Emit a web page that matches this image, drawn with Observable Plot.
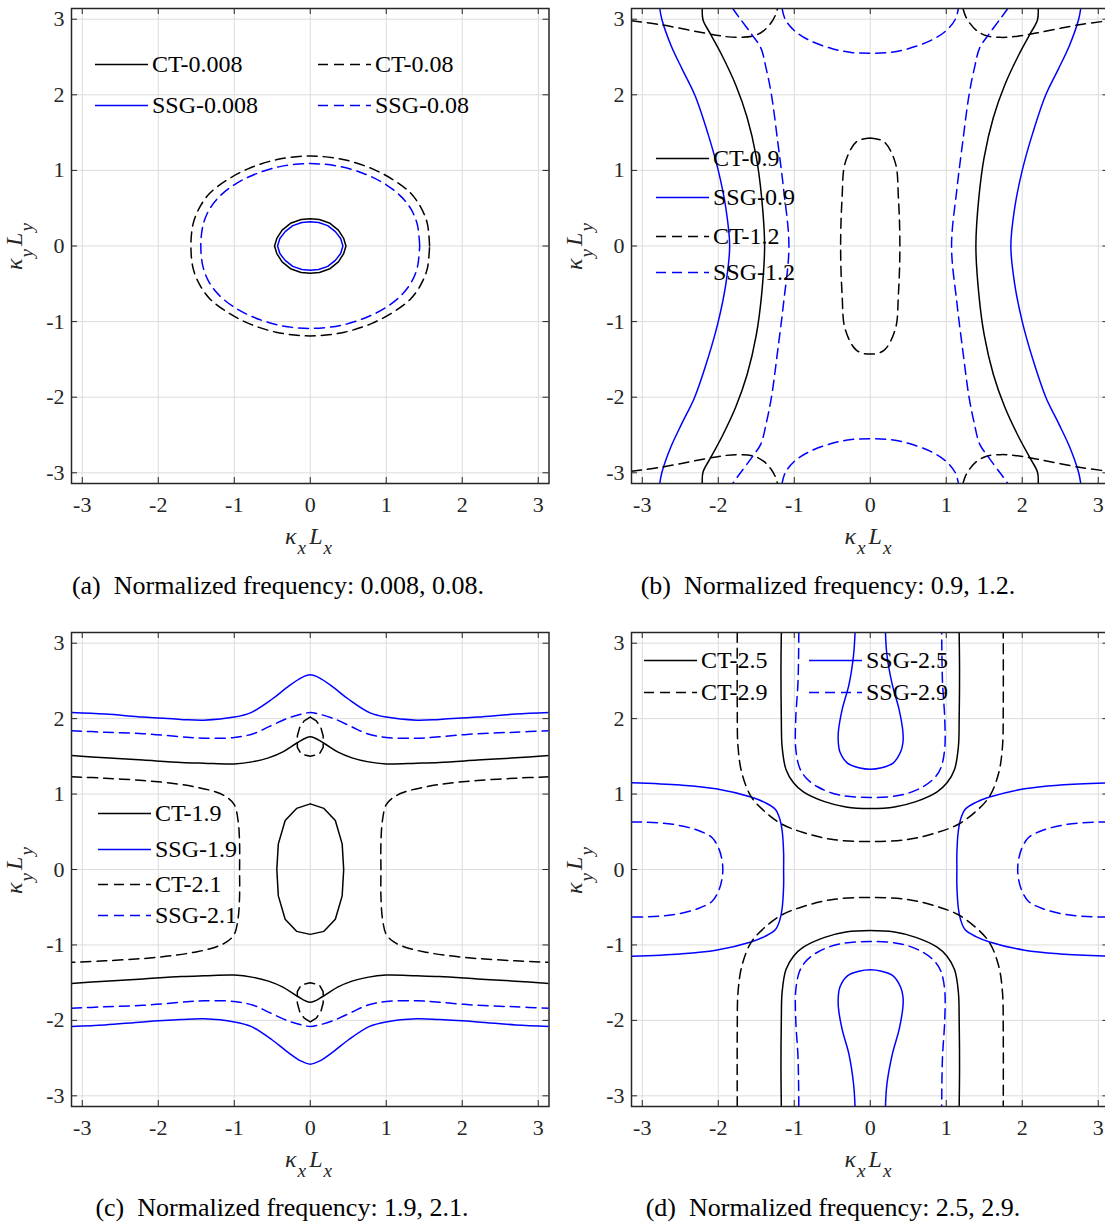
<!DOCTYPE html>
<html><head><meta charset="utf-8">
<script src="https://cdn.jsdelivr.net/npm/d3@7"></script>
<script src="https://cdn.jsdelivr.net/npm/@observablehq/plot@0.6"></script>
<style>
html,body{margin:0;padding:0;background:#fff;}
body{width:1105px;height:1228px;overflow:hidden;position:relative;font-family:"Liberation Serif","Times New Roman",serif;color:#262626;}
.panel{position:absolute;}
.panel svg{display:block;max-width:none;}
.caption{position:absolute;white-space:pre;font-size:26px;color:#000;transform:translate(-50%,-50%);}
.xlabel{position:absolute;white-space:nowrap;font-size:24px;color:#262626;transform:translate(-50%,-50%);}
.ylabel{position:absolute;white-space:nowrap;font-size:24px;color:#262626;transform:translate(-50%,-50%) rotate(-90deg);}
.xlabel sub,.ylabel sub{font-size:0.8em;vertical-align:-0.55em;font-style:italic;margin:0 3px 0 1px;}
.item{position:absolute;display:flex;align-items:center;white-space:nowrap;font-size:24px;color:#000;transform:translateY(-50%);}
.item svg{display:block;margin-right:4px;}
</style></head><body>
<script>
// ---------- ticks ----------
const TICKS = [-3, -2, -1, 0, 1, 2, 3];

// ---------- panel (a): normalized frequency 0.008, 0.08 ----------
const a_ct0008 = [[0.47,0],[0.44,0.1],[0.37,0.21],[0.26,0.3],[0.12,0.35],[0,0.36],[-0.12,0.35],[-0.26,0.3],[-0.37,0.21],[-0.44,0.1],[-0.47,0],[-0.44,-0.1],[-0.37,-0.21],[-0.26,-0.3],[-0.12,-0.35],[0,-0.36],[0.12,-0.35],[0.26,-0.3],[0.37,-0.21],[0.44,-0.1],[0.47,0]];
const a_ssg0008 = [[0.43,0],[0.4,0.1],[0.33,0.19],[0.23,0.27],[0.11,0.31],[0,0.32],[-0.11,0.31],[-0.23,0.27],[-0.33,0.19],[-0.4,0.1],[-0.43,0],[-0.4,-0.1],[-0.33,-0.19],[-0.23,-0.27],[-0.11,-0.31],[0,-0.32],[0.11,-0.31],[0.23,-0.27],[0.33,-0.19],[0.4,-0.1],[0.43,0]];
const a_ct008 = [[1.57,0],[1.54,0.3],[1.45,0.52],[1.32,0.7],[1.1,0.87],[0.82,1.02],[0.45,1.14],[0,1.19],[-0.45,1.14],[-0.82,1.02],[-1.1,0.87],[-1.32,0.7],[-1.45,0.52],[-1.54,0.3],[-1.57,0],[-1.54,-0.3],[-1.45,-0.52],[-1.32,-0.7],[-1.1,-0.87],[-0.82,-1.02],[-0.45,-1.14],[0,-1.19],[0.45,-1.14],[0.82,-1.02],[1.1,-0.87],[1.32,-0.7],[1.45,-0.52],[1.54,-0.3],[1.57,0]];
const a_ssg008 = [[1.44,0],[1.41,0.28],[1.33,0.48],[1.2,0.65],[1.0,0.81],[0.75,0.94],[0.4,1.05],[0,1.09],[-0.4,1.05],[-0.75,0.94],[-1.0,0.81],[-1.2,0.65],[-1.33,0.48],[-1.41,0.28],[-1.44,0],[-1.41,-0.28],[-1.33,-0.48],[-1.2,-0.65],[-1.0,-0.81],[-0.75,-0.94],[-0.4,-1.05],[0,-1.09],[0.4,-1.05],[0.75,-0.94],[1.0,-0.81],[1.2,-0.65],[1.33,-0.48],[1.41,-0.28],[1.44,0]];
const a_labels = ["CT-0.008", "CT-0.08", "SSG-0.008", "SSG-0.08"];

// ---------- panel (b): 0.9, 1.2 ----------
const b_ct09_r = [[2.21,3.1416],[2.2,2.99],[2.1,2.8],[1.95,2.52],[1.77,2.13],[1.62,1.7],[1.5,1.18],[1.43,0.65],[1.39,0],[1.43,-0.65],[1.5,-1.18],[1.62,-1.7],[1.77,-2.13],[1.95,-2.52],[2.1,-2.8],[2.2,-2.99],[2.21,-3.1416]];
const b_ct09_l = [[-2.21,3.1416],[-2.2,2.99],[-2.1,2.8],[-1.95,2.52],[-1.77,2.13],[-1.62,1.7],[-1.5,1.18],[-1.43,0.65],[-1.39,0],[-1.43,-0.65],[-1.5,-1.18],[-1.62,-1.7],[-1.77,-2.13],[-1.95,-2.52],[-2.1,-2.8],[-2.2,-2.99],[-2.21,-3.1416]];
const b_ssg09_r = [[2.77,3.1416],[2.74,2.99],[2.62,2.65],[2.48,2.35],[2.31,2.0],[2.14,1.5],[2.0,1.0],[1.9,0.5],[1.85,0],[1.9,-0.5],[2.0,-1.0],[2.14,-1.5],[2.31,-2.0],[2.48,-2.35],[2.62,-2.65],[2.74,-2.99],[2.77,-3.1416]];
const b_ssg09_l = [[-2.77,3.1416],[-2.74,2.99],[-2.62,2.65],[-2.48,2.35],[-2.31,2.0],[-2.14,1.5],[-2.0,1.0],[-1.9,0.5],[-1.85,0],[-1.9,-0.5],[-2.0,-1.0],[-2.14,-1.5],[-2.31,-2.0],[-2.48,-2.35],[-2.62,-2.65],[-2.74,-2.99],[-2.77,-3.1416]];
const b_ct12_oval = [[0,1.43],[0.18,1.38],[0.33,1.1],[0.37,0.65],[0.39,0],[0.37,-0.65],[0.33,-1.1],[0.18,-1.38],[0,-1.43],[-0.18,-1.38],[-0.33,-1.1],[-0.37,-0.65],[-0.39,0],[-0.37,0.65],[-0.33,1.1],[-0.18,1.38],[0,1.43]];
const b_ct12_tl = [[-3.1416,2.98],[-2.77,2.93],[-2.2,2.82],[-1.9,2.77],[-1.71,2.76],[-1.53,2.78],[-1.4,2.85],[-1.3,2.96],[-1.25,3.05],[-1.22,3.1416]];
const b_ct12_tr = [[1.22,3.1416],[1.25,3.05],[1.3,2.96],[1.4,2.85],[1.53,2.78],[1.71,2.76],[1.9,2.77],[2.2,2.82],[2.77,2.93],[3.1416,2.98]];
const b_ct12_bl = [[-3.1416,-2.98],[-2.77,-2.93],[-2.2,-2.82],[-1.9,-2.77],[-1.71,-2.76],[-1.53,-2.78],[-1.4,-2.85],[-1.3,-2.96],[-1.25,-3.05],[-1.22,-3.1416]];
const b_ct12_br = [[1.22,-3.1416],[1.25,-3.05],[1.3,-2.96],[1.4,-2.85],[1.53,-2.78],[1.71,-2.76],[1.9,-2.77],[2.2,-2.82],[2.77,-2.93],[3.1416,-2.98]];
const b_ssg12_top = [[-1.16,3.1416],[-1.12,3.0],[-1.0,2.85],[-0.8,2.72],[-0.5,2.61],[-0.25,2.56],[0,2.55],[0.25,2.56],[0.5,2.61],[0.8,2.72],[1.0,2.85],[1.12,3.0],[1.16,3.1416]];
const b_ssg12_bot = [[-1.16,-3.1416],[-1.12,-3.0],[-1.0,-2.85],[-0.8,-2.72],[-0.5,-2.61],[-0.25,-2.56],[0,-2.55],[0.25,-2.56],[0.5,-2.61],[0.8,-2.72],[1.0,-2.85],[1.12,-3.0],[1.16,-3.1416]];
const b_ssg12_r = [[1.81,3.1416],[1.73,3.03],[1.56,2.8],[1.44,2.62],[1.37,2.35],[1.3,2.0],[1.22,1.4],[1.14,0.75],[1.07,0],[1.14,-0.75],[1.22,-1.4],[1.3,-2.0],[1.37,-2.35],[1.44,-2.62],[1.56,-2.8],[1.73,-3.03],[1.81,-3.1416]];
const b_ssg12_l = [[-1.81,3.1416],[-1.73,3.03],[-1.56,2.8],[-1.44,2.62],[-1.37,2.35],[-1.3,2.0],[-1.22,1.4],[-1.14,0.75],[-1.07,0],[-1.14,-0.75],[-1.22,-1.4],[-1.3,-2.0],[-1.37,-2.35],[-1.44,-2.62],[-1.56,-2.8],[-1.73,-3.03],[-1.81,-3.1416]];
const b_labels = ["CT-0.9", "SSG-0.9", "CT-1.2", "SSG-1.2"];

// ---------- panel (c): 1.9, 2.1 ----------
const c_ssg19_top = [[-3.1416,2.08],[-2.7,2.06],[-2.2,2.02],[-1.7,1.99],[-1.4,1.98],[-1.0,2.02],[-0.78,2.08],[-0.5,2.26],[-0.31,2.41],[-0.12,2.54],[0,2.58],[0.12,2.54],[0.31,2.41],[0.5,2.26],[0.78,2.08],[1.0,2.02],[1.4,1.98],[1.7,1.99],[2.2,2.02],[2.7,2.06],[3.1416,2.08]];
const c_ssg19_bot = [[-3.1416,-2.08],[-2.7,-2.06],[-2.2,-2.02],[-1.7,-1.99],[-1.4,-1.98],[-1.0,-2.02],[-0.78,-2.08],[-0.5,-2.26],[-0.31,-2.41],[-0.12,-2.54],[0,-2.58],[0.12,-2.54],[0.31,-2.41],[0.5,-2.26],[0.78,-2.08],[1.0,-2.02],[1.4,-1.98],[1.7,-1.99],[2.2,-2.02],[2.7,-2.06],[3.1416,-2.08]];
const c_ssg21_top = [[-3.1416,1.84],[-2.7,1.82],[-2.2,1.8],[-1.7,1.76],[-1.4,1.74],[-1.0,1.75],[-0.75,1.8],[-0.55,1.89],[-0.31,2.0],[-0.12,2.06],[0,2.08],[0.12,2.06],[0.31,2.0],[0.55,1.89],[0.75,1.8],[1.0,1.75],[1.4,1.74],[1.7,1.76],[2.2,1.8],[2.7,1.82],[3.1416,1.84]];
const c_ssg21_bot = [[-3.1416,-1.84],[-2.7,-1.82],[-2.2,-1.8],[-1.7,-1.76],[-1.4,-1.74],[-1.0,-1.75],[-0.75,-1.8],[-0.55,-1.89],[-0.31,-2.0],[-0.12,-2.06],[0,-2.08],[0.12,-2.06],[0.31,-2.0],[0.55,-1.89],[0.75,-1.8],[1.0,-1.75],[1.4,-1.74],[1.7,-1.76],[2.2,-1.8],[2.7,-1.82],[3.1416,-1.84]];
const c_ct19_top = [[-3.1416,1.51],[-2.7,1.48],[-2.2,1.45],[-1.7,1.42],[-1.4,1.41],[-1.0,1.4],[-0.75,1.43],[-0.55,1.48],[-0.36,1.56],[-0.17,1.68],[0,1.76],[0.17,1.68],[0.36,1.56],[0.55,1.48],[0.75,1.43],[1.0,1.4],[1.4,1.41],[1.7,1.42],[2.2,1.45],[2.7,1.48],[3.1416,1.51]];
const c_ct19_bot = [[-3.1416,-1.51],[-2.7,-1.48],[-2.2,-1.45],[-1.7,-1.42],[-1.4,-1.41],[-1.0,-1.4],[-0.75,-1.43],[-0.55,-1.48],[-0.36,-1.56],[-0.17,-1.68],[0,-1.76],[0.17,-1.68],[0.36,-1.56],[0.55,-1.48],[0.75,-1.43],[1.0,-1.4],[1.4,-1.41],[1.7,-1.42],[2.2,-1.45],[2.7,-1.48],[3.1416,-1.51]];
const c_ct19_oval = [[0,0.87],[0.18,0.81],[0.33,0.65],[0.42,0.34],[0.44,0],[0.42,-0.35],[0.33,-0.66],[0.18,-0.82],[0,-0.86],[-0.18,-0.82],[-0.33,-0.66],[-0.42,-0.35],[-0.44,0],[-0.42,0.34],[-0.33,0.65],[-0.18,0.81],[0,0.87]];
const c_ct21_l = [[-3.1416,1.23],[-2.7,1.21],[-2.2,1.18],[-1.8,1.14],[-1.49,1.09],[-1.25,1.03],[-1.1,0.96],[-1.0,0.86],[-0.95,0.65],[-0.93,0.35],[-0.93,0],[-0.93,-0.35],[-0.95,-0.65],[-1.0,-0.86],[-1.1,-0.96],[-1.25,-1.03],[-1.49,-1.09],[-1.8,-1.14],[-2.2,-1.18],[-2.7,-1.21],[-3.1416,-1.23]];
const c_ct21_r = [[3.1416,1.23],[2.7,1.21],[2.2,1.18],[1.8,1.14],[1.49,1.09],[1.25,1.03],[1.1,0.96],[1.0,0.86],[0.95,0.65],[0.93,0.35],[0.93,0],[0.93,-0.35],[0.95,-0.65],[1.0,-0.86],[1.1,-0.96],[1.25,-1.03],[1.49,-1.09],[1.8,-1.14],[2.2,-1.18],[2.7,-1.21],[3.1416,-1.23]];
const c_ct21_up = [[0,2.02],[0.08,1.97],[0.14,1.88],[0.17,1.77],[0.17,1.62],[0.12,1.53],[0,1.5],[-0.12,1.53],[-0.17,1.62],[-0.17,1.77],[-0.14,1.88],[-0.08,1.97],[0,2.02]];
const c_ct21_lo = [[0,-2.02],[0.08,-1.97],[0.14,-1.88],[0.17,-1.77],[0.17,-1.62],[0.12,-1.53],[0,-1.5],[-0.12,-1.53],[-0.17,-1.62],[-0.17,-1.77],[-0.14,-1.88],[-0.08,-1.97],[0,-2.02]];
const c_labels = ["CT-1.9", "SSG-1.9", "CT-2.1", "SSG-2.1"];

// ---------- panel (d): 2.5, 2.9 ----------
const d_ct25_top = [[-1.17,3.1416],[-1.175,2.64],[-1.17,1.98],[-1.16,1.63],[-1.11,1.33],[-1.01,1.15],[-0.88,1.03],[-0.6,0.9],[-0.32,0.83],[0,0.81],[0.32,0.83],[0.6,0.9],[0.88,1.03],[1.01,1.15],[1.11,1.33],[1.16,1.63],[1.17,1.98],[1.175,2.64],[1.17,3.1416]];
const d_ct25_bot = [[-1.17,-3.1416],[-1.175,-2.64],[-1.17,-1.98],[-1.16,-1.63],[-1.11,-1.33],[-1.01,-1.15],[-0.88,-1.03],[-0.6,-0.9],[-0.32,-0.83],[0,-0.81],[0.32,-0.83],[0.6,-0.9],[0.88,-1.03],[1.01,-1.15],[1.11,-1.33],[1.16,-1.63],[1.17,-1.98],[1.175,-2.64],[1.17,-3.1416]];
const d_ssg25_top = [[-0.2,3.1416],[-0.22,2.84],[-0.28,2.45],[-0.37,2.12],[-0.42,1.82],[-0.42,1.68],[-0.4,1.56],[-0.3,1.41],[-0.15,1.35],[0,1.33],[0.15,1.35],[0.3,1.41],[0.4,1.56],[0.43,1.68],[0.43,1.82],[0.38,2.12],[0.29,2.45],[0.22,2.84],[0.2,3.1416]];
const d_ssg25_bot = [[-0.2,-3.1416],[-0.22,-2.84],[-0.28,-2.45],[-0.37,-2.12],[-0.42,-1.82],[-0.42,-1.68],[-0.4,-1.56],[-0.3,-1.41],[-0.15,-1.35],[0,-1.33],[0.15,-1.35],[0.3,-1.41],[0.4,-1.56],[0.43,-1.68],[0.43,-1.82],[0.38,-2.12],[0.29,-2.45],[0.22,-2.84],[0.2,-3.1416]];
const d_ssg25_l = [[-3.1416,1.15],[-2.5,1.12],[-2.03,1.07],[-1.57,0.96],[-1.39,0.89],[-1.25,0.8],[-1.19,0.67],[-1.16,0.52],[-1.14,0.22],[-1.14,0],[-1.14,-0.22],[-1.16,-0.52],[-1.19,-0.67],[-1.25,-0.8],[-1.39,-0.89],[-1.57,-0.96],[-2.03,-1.07],[-2.5,-1.12],[-3.1416,-1.15]];
const d_ssg25_r = [[3.1416,1.15],[2.5,1.12],[2.03,1.07],[1.57,0.96],[1.39,0.89],[1.25,0.8],[1.19,0.67],[1.16,0.52],[1.14,0.22],[1.14,0],[1.14,-0.22],[1.16,-0.52],[1.19,-0.67],[1.25,-0.8],[1.39,-0.89],[1.57,-0.96],[2.03,-1.07],[2.5,-1.12],[3.1416,-1.15]];
const d_ssg29_top = [[-0.94,3.1416],[-0.95,2.5],[-0.98,2.0],[-0.98,1.6],[-0.93,1.35],[-0.85,1.22],[-0.7,1.1],[-0.42,0.99],[0,0.955],[0.42,0.99],[0.7,1.1],[0.85,1.22],[0.93,1.35],[0.98,1.6],[0.98,2.0],[0.95,2.5],[0.94,3.1416]];
const d_ssg29_bot = [[-0.94,-3.1416],[-0.95,-2.5],[-0.98,-2.0],[-0.98,-1.6],[-0.93,-1.35],[-0.85,-1.22],[-0.7,-1.1],[-0.42,-0.99],[0,-0.955],[0.42,-0.99],[0.7,-1.1],[0.85,-1.22],[0.93,-1.35],[0.98,-1.6],[0.98,-2.0],[0.95,-2.5],[0.94,-3.1416]];
const d_ssg29_l = [[-3.1416,0.63],[-3.0,0.63],[-2.6,0.6],[-2.27,0.52],[-2.08,0.42],[-1.99,0.27],[-1.95,0.12],[-1.94,0],[-1.95,-0.12],[-1.99,-0.27],[-2.08,-0.42],[-2.27,-0.52],[-2.6,-0.6],[-3.0,-0.63],[-3.1416,-0.63]];
const d_ssg29_r = [[3.1416,0.63],[3.0,0.63],[2.6,0.6],[2.27,0.52],[2.08,0.42],[1.99,0.27],[1.95,0.12],[1.94,0],[1.95,-0.12],[1.99,-0.27],[2.08,-0.42],[2.27,-0.52],[2.6,-0.6],[3.0,-0.63],[3.1416,-0.63]];
const d_ct29_top = [[-1.75,3.1416],[-1.75,2.14],[-1.74,1.63],[-1.69,1.28],[-1.57,0.97],[-1.39,0.77],[-1.16,0.6],[-0.88,0.49],[-0.51,0.4],[0,0.37],[0.51,0.4],[0.88,0.49],[1.16,0.6],[1.39,0.77],[1.57,0.97],[1.69,1.28],[1.74,1.63],[1.75,2.14],[1.75,3.1416]];
const d_ct29_bot = [[-1.75,-3.1416],[-1.75,-2.14],[-1.74,-1.63],[-1.69,-1.28],[-1.57,-0.97],[-1.39,-0.77],[-1.16,-0.6],[-0.88,-0.49],[-0.51,-0.4],[0,-0.37],[0.51,-0.4],[0.88,-0.49],[1.16,-0.6],[1.39,-0.77],[1.57,-0.97],[1.69,-1.28],[1.74,-1.63],[1.75,-2.14],[1.75,-3.1416]];
const d_labels = ["CT-2.5", "CT-2.9", "SSG-2.5", "SSG-2.9"];

const captions = ["(a)  Normalized frequency: 0.008, 0.08.", "(b)  Normalized frequency: 0.9, 1.2.", "(c)  Normalized frequency: 1.9, 2.1.", "(d)  Normalized frequency: 2.5, 2.9."];

// ---------- styles ----------
const ST = {
  ctS:  {stroke: "#000000", dashed: false},
  ctD:  {stroke: "#000000", dashed: true},
  ssgS: {stroke: "#0000ff", dashed: false},
  ssgD: {stroke: "#0000ff", dashed: true}
};
const DASH = "10,6";

function makePanel(series, fr) {
  const ml = 60, mr = 12, mt = 10, mb = 50;
  const marks = [
    Plot.ruleX(TICKS, {x: d => d, stroke: "#dcdcdc", strokeWidth: 1}),
    Plot.ruleY(TICKS, {y: d => d, stroke: "#dcdcdc", strokeWidth: 1}),
    ...series.map(s => Plot.line(s.data, {
      x: d => d[0], y: d => d[1], stroke: s.st.stroke, strokeWidth: 1.5,
      ...(s.st.dashed ? {strokeDasharray: DASH} : {}),
      curve: s.curve || "catmull-rom", clip: true
    })),
    Plot.tickX(TICKS, {x: d => d, insetTop: fr.h - 6, stroke: "#262626"}),
    Plot.tickX(TICKS, {x: d => d, insetBottom: fr.h - 6, stroke: "#262626"}),
    Plot.tickY(TICKS, {y: d => d, insetRight: fr.w - 6, stroke: "#262626"}),
    Plot.tickY(TICKS, {y: d => d, insetLeft: fr.w - 6, stroke: "#262626"}),
    Plot.frame({stroke: "#262626", strokeWidth: 1.5})
  ];
  const svg = Plot.plot({
    width: fr.w + ml + mr, height: fr.h + mt + mb,
    marginLeft: ml, marginRight: mr, marginTop: mt, marginBottom: mb,
    style: {fontFamily: "'Liberation Serif', 'Times New Roman', serif", fontSize: "22px", color: "#262626", background: "transparent", maxWidth: "none", overflow: "visible"},
    x: {domain: [-Math.PI, Math.PI], ticks: TICKS, tickFormat: d => String(d), tickSize: 0, tickPadding: 13, label: null},
    y: {domain: [-Math.PI, Math.PI], ticks: TICKS, tickFormat: d => String(d), tickSize: 0, tickPadding: 7, label: null},
    marks
  });
  const div = document.createElement("div");
  div.className = "panel";
  div.style.left = (fr.left - ml) + "px";
  div.style.top = (fr.top - mt) + "px";
  div.appendChild(svg);
  document.body.appendChild(div);

  // axis labels
  const xl = document.createElement("div");
  xl.className = "xlabel";
  xl.style.left = (fr.left + fr.w / 2) + "px";
  xl.style.top = (fr.top + fr.h + 58) + "px";
  xl.innerHTML = "<i>κ</i><sub>x</sub><i>L</i><sub>x</sub>";
  document.body.appendChild(xl);
  const yl = document.createElement("div");
  yl.className = "ylabel";
  yl.style.left = (fr.left - 52) + "px";
  yl.style.top = (fr.top + fr.h / 2) + "px";
  yl.innerHTML = "<i>κ</i><sub>y</sub><i>L</i><sub>y</sub>";
  document.body.appendChild(yl);
}

function legendItem(label, st, x, y) {
  const it = document.createElement("div");
  it.className = "item";
  it.style.left = x + "px";
  it.style.top = y + "px";
  const dash = st.dashed ? ` stroke-dasharray="${DASH}"` : "";
  it.innerHTML = `<svg width="53" height="4"><line x1="0" y1="2" x2="53" y2="2" stroke="${st.stroke}" stroke-width="1.5"${dash}/></svg><span>${label}</span>`;
  document.body.appendChild(it);
}

function caption(text, x, y) {
  const c = document.createElement("div");
  c.className = "caption";
  c.style.left = x + "px";
  c.style.top = y + "px";
  c.textContent = text;
  document.body.appendChild(c);
}

const FR = {
  a: {left: 71.3, top: 7.5, w: 477.5, h: 475},
  b: {left: 630.7, top: 7.5, w: 477.5, h: 475},
  c: {left: 71.3, top: 631.5, w: 477.5, h: 474},
  d: {left: 630.7, top: 631.5, w: 477.5, h: 474}
};

makePanel([
  {data: a_ct0008, st: ST.ctS, curve: "linear"},
  {data: a_ssg0008, st: ST.ssgS, curve: "linear"},
  {data: a_ct008, st: ST.ctD},
  {data: a_ssg008, st: ST.ssgD}
], FR.a);
makePanel([
  {data: b_ct09_r, st: ST.ctS}, {data: b_ct09_l, st: ST.ctS},
  {data: b_ssg09_r, st: ST.ssgS}, {data: b_ssg09_l, st: ST.ssgS},
  {data: b_ct12_oval, st: ST.ctD}, {data: b_ct12_tl, st: ST.ctD}, {data: b_ct12_tr, st: ST.ctD},
  {data: b_ct12_bl, st: ST.ctD}, {data: b_ct12_br, st: ST.ctD},
  {data: b_ssg12_top, st: ST.ssgD}, {data: b_ssg12_bot, st: ST.ssgD},
  {data: b_ssg12_r, st: ST.ssgD}, {data: b_ssg12_l, st: ST.ssgD}
], FR.b);
makePanel([
  {data: c_ssg19_top, st: ST.ssgS}, {data: c_ssg19_bot, st: ST.ssgS},
  {data: c_ssg21_top, st: ST.ssgD}, {data: c_ssg21_bot, st: ST.ssgD},
  {data: c_ct19_top, st: ST.ctS}, {data: c_ct19_bot, st: ST.ctS}, {data: c_ct19_oval, st: ST.ctS, curve: "linear"},
  {data: c_ct21_l, st: ST.ctD}, {data: c_ct21_r, st: ST.ctD},
  {data: c_ct21_up, st: ST.ctD, curve: "linear"}, {data: c_ct21_lo, st: ST.ctD, curve: "linear"}
], FR.c);
makePanel([
  {data: d_ct25_top, st: ST.ctS}, {data: d_ct25_bot, st: ST.ctS},
  {data: d_ssg25_top, st: ST.ssgS}, {data: d_ssg25_bot, st: ST.ssgS},
  {data: d_ssg25_l, st: ST.ssgS}, {data: d_ssg25_r, st: ST.ssgS},
  {data: d_ssg29_top, st: ST.ssgD}, {data: d_ssg29_bot, st: ST.ssgD},
  {data: d_ssg29_l, st: ST.ssgD}, {data: d_ssg29_r, st: ST.ssgD},
  {data: d_ct29_top, st: ST.ctD}, {data: d_ct29_bot, st: ST.ctD}
], FR.d);

// legends
legendItem(a_labels[0], ST.ctS, 95, 64);
legendItem(a_labels[1], ST.ctD, 318, 64);
legendItem(a_labels[2], ST.ssgS, 95, 105);
legendItem(a_labels[3], ST.ssgD, 318, 105);

legendItem(b_labels[0], ST.ctS, 656, 158);
legendItem(b_labels[1], ST.ssgS, 656, 197);
legendItem(b_labels[2], ST.ctD, 656, 236);
legendItem(b_labels[3], ST.ssgD, 656, 272);

legendItem(c_labels[0], ST.ctS, 98, 813);
legendItem(c_labels[1], ST.ssgS, 98, 849);
legendItem(c_labels[2], ST.ctD, 98, 884);
legendItem(c_labels[3], ST.ssgD, 98, 915);

legendItem(d_labels[0], ST.ctS, 644, 660);
legendItem(d_labels[1], ST.ctD, 644, 692);
legendItem(d_labels[2], ST.ssgS, 809, 660);
legendItem(d_labels[3], ST.ssgD, 809, 692);

caption(captions[0], 278, 586);
caption(captions[1], 828, 586);
caption(captions[2], 282, 1208);
caption(captions[3], 833, 1208);
</script>
</body></html>
